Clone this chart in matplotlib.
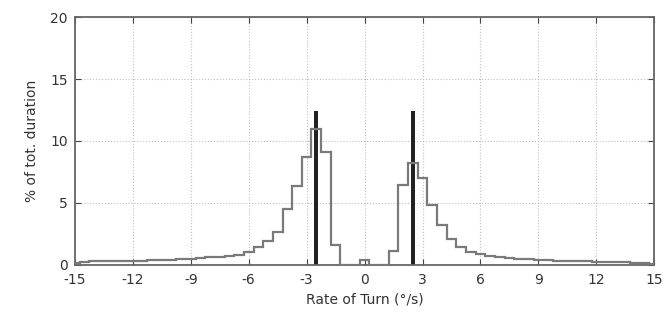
import numpy as np
import matplotlib
matplotlib.use("Agg")
import matplotlib.pyplot as plt

plt.rcParams["axes.unicode_minus"] = False

# histogram of rate of turn, bins of 0.5 deg/s centred on multiples of 0.5
bin_centers = np.arange(-15, 15.01, 0.5)
pct_duration = [
    0.15, 0.25, 0.28, 0.30, 0.30, 0.32, 0.33, 0.33, 0.38, 0.40,   # -15 .. -10.5
    0.42, 0.45, 0.50, 0.55, 0.60, 0.65, 0.70, 0.80, 1.05, 1.45,   # -10 .. -5.5
    1.95, 2.65, 4.50, 6.40, 8.70, 11.0, 9.10, 1.60, 0.00, 0.00,   # -5 .. -0.5
    0.40,                                                          # 0
    0.00, 0.00, 1.10, 6.45, 8.20, 7.00, 4.80, 3.25, 2.05, 1.45,   # 0.5 .. 5
    1.05, 0.85, 0.72, 0.62, 0.55, 0.50, 0.45, 0.40, 0.37, 0.35,   # 5.5 .. 10
    0.33, 0.30, 0.30, 0.27, 0.26, 0.23, 0.20, 0.18, 0.15, 0.10,   # 10.5 .. 15
]

# dominant rates (black bars)
peak_rates = [-2.5, 2.5]
peak_values = [12.4, 12.4]

xticks = [-15, -12, -9, -6, -3, 0, 3, 6, 9, 12, 15]
yticks = [0, 5, 10, 15, 20]

fig = plt.figure(figsize=(6.69, 3.29), dpi=100)
ax = fig.add_axes([0.112, 0.195, 0.866, 0.753])

ax.bar(peak_rates, peak_values, width=0.22, color="#222222", zorder=2)

edges = np.append(bin_centers - 0.25, bin_centers[-1] + 0.25)
ax.stairs(pct_duration, edges, color="#7a7a7a", linewidth=1.6, zorder=3)

ax.set_xlim(-15, 15)
ax.set_ylim(0, 20)
ax.set_xticks(xticks)
ax.set_yticks(yticks)
ax.grid(True, linestyle=":", color="#c0c0c0", linewidth=0.8)
ax.set_axisbelow(True)

ax.tick_params(direction="in", top=True, right=True, length=4,
               color="#444444", labelsize=10, labelcolor="#333333")
ax.tick_params(axis="x", pad=6)
ax.tick_params(axis="y", pad=5)
for s in ax.spines.values():
    s.set_color("#666666")
    s.set_linewidth(1.3)

ax.set_xlabel("Rate of Turn (°/s)", fontsize=10, color="#333333", labelpad=4)
ax.set_ylabel("% of tot. duration", fontsize=10, color="#333333", labelpad=8)

fig.savefig("out.png", dpi=100)
